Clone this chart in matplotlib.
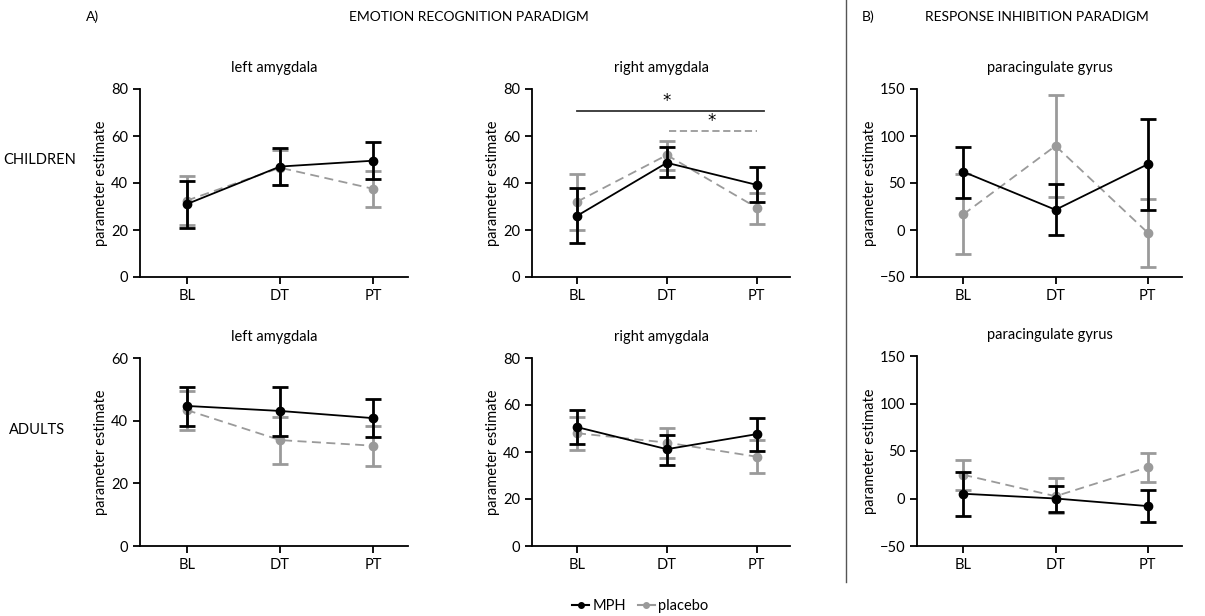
import matplotlib
matplotlib.use("Agg")
import matplotlib.pyplot as plt
from matplotlib.lines import Line2D

plt.rcParams['font.family'] = ['Lato', 'DejaVu Sans']

sessions = ['BL', 'DT', 'PT']

# children, emotion recognition
ch_left_mph = [31, 47, 49.5]
ch_left_mph_lo = [21, 39, 41.5]
ch_left_mph_hi = [41, 55, 57.5]
ch_left_pla = [32.5, 46.5, 37.5]
ch_left_pla_lo = [22, 39, 30]
ch_left_pla_hi = [43, 54, 45]

ch_right_mph = [26, 48.6, 39.2]
ch_right_mph_lo = [14.6, 42.4, 32]
ch_right_mph_hi = [37.9, 55.2, 46.7]
ch_right_pla = [32, 51.9, 29.5]
ch_right_pla_lo = [20, 45.5, 22.6]
ch_right_pla_hi = [43.8, 58, 35.9]

# children, response inhibition
ch_pcg_mph = [62, 21.5, 70]
ch_pcg_mph_lo = [34.4, -5.3, 21]
ch_pcg_mph_hi = [88.6, 48.6, 118]
ch_pcg_pla = [16.5, 89.5, -3]
ch_pcg_pla_lo = [-25.5, 35, -39]
ch_pcg_pla_hi = [60, 143.6, 33]

# adults, emotion recognition
ad_left_mph = [44.7, 43.1, 40.8]
ad_left_mph_lo = [38.3, 35.2, 34.7]
ad_left_mph_hi = [50.9, 50.6, 46.9]
ad_left_pla = [43.4, 33.8, 32]
ad_left_pla_lo = [37, 26.1, 25.6]
ad_left_pla_hi = [49.5, 41.3, 38.4]

ad_right_mph = [50.6, 41.2, 47.6]
ad_right_mph_lo = [43.5, 34.5, 40.5]
ad_right_mph_hi = [58, 47.3, 54.4]
ad_right_pla = [48, 44, 38]
ad_right_pla_lo = [40.9, 37.3, 30.9]
ad_right_pla_hi = [55.1, 50.2, 45.2]

# adults, response inhibition
ad_pcg_mph = [5, 0, -8]
ad_pcg_mph_lo = [-18, -14, -25]
ad_pcg_mph_hi = [28, 13, 9]
ad_pcg_pla = [25, 2.4, 33]
ad_pcg_pla_lo = [9, -15, 17]
ad_pcg_pla_hi = [41, 21.7, 48]

GREY = '#9a9a9a'

fig = plt.figure(figsize=(12.05, 6.16), dpi=100)

W, H = 1205, 616


def make_ax(left, right, top, bottom):
    return fig.add_axes([left / W, 1 - bottom / H, (right - left) / W, (bottom - top) / H])


def draw_panel(ax, title, mph, mph_lo, mph_hi, pla, pla_lo, pla_hi, ylim, yticks):
    x = list(range(len(sessions)))
    e_mph = [[m - lo for m, lo in zip(mph, mph_lo)], [hi - m for m, hi in zip(mph, mph_hi)]]
    e_pla = [[m - lo for m, lo in zip(pla, pla_lo)], [hi - m for m, hi in zip(pla, pla_hi)]]
    ax.errorbar(x, pla, yerr=e_pla, color=GREY, ecolor=GREY, elinewidth=2.0,
                capsize=5.5, capthick=2.0, linestyle=(0, (5, 3)), linewidth=1.3,
                marker='o', markersize=6, zorder=2)
    ax.errorbar(x, mph, yerr=e_mph, color='black', ecolor='black', elinewidth=2.0,
                capsize=5.5, capthick=2.0, linestyle='-', linewidth=1.3,
                marker='o', markersize=6, zorder=3)
    ax.set_xlim(-0.5, 2.37)
    ax.set_ylim(*ylim)
    ax.set_yticks(yticks)
    ax.set_xticks(x)
    ax.set_xticklabels(sessions)
    for s in ['top', 'right']:
        ax.spines[s].set_visible(False)
    for s in ['left', 'bottom']:
        ax.spines[s].set_linewidth(1.3)
    ax.tick_params(axis='both', direction='out', length=5, width=1.3, labelsize=10.5)
    ax.set_ylabel('parameter estimate', fontsize=10.5, labelpad=2)
    ax.set_title(title, fontsize=10.5, pad=12)


ax1 = make_ax(140, 408, 89, 277)
draw_panel(ax1, 'left amygdala', ch_left_mph, ch_left_mph_lo, ch_left_mph_hi,
           ch_left_pla, ch_left_pla_lo, ch_left_pla_hi, (0, 80), [0, 20, 40, 60, 80])

ax2 = make_ax(532, 790, 89, 277)
draw_panel(ax2, 'right amygdala', ch_right_mph, ch_right_mph_lo, ch_right_mph_hi,
           ch_right_pla, ch_right_pla_lo, ch_right_pla_hi, (0, 80), [0, 20, 40, 60, 80])
ax2.plot([0, 2.08], [70.6, 70.6], color='#333333', linewidth=1.3)
ax2.plot([1.02, 2.0], [62, 62], color=GREY, linewidth=1.3, linestyle=(0, (4, 2)))
ax2.text(1, 75, '*', ha='center', va='center', fontsize=12, family='DejaVu Sans')
ax2.text(1.5, 66.5, '*', ha='center', va='center', fontsize=12, family='DejaVu Sans')

ax3 = make_ax(917, 1182, 89, 277)
draw_panel(ax3, 'paracingulate gyrus', ch_pcg_mph, ch_pcg_mph_lo, ch_pcg_mph_hi,
           ch_pcg_pla, ch_pcg_pla_lo, ch_pcg_pla_hi, (-50, 150), [-50, 0, 50, 100, 150])

ax4 = make_ax(140, 408, 358, 546)
draw_panel(ax4, 'left amygdala', ad_left_mph, ad_left_mph_lo, ad_left_mph_hi,
           ad_left_pla, ad_left_pla_lo, ad_left_pla_hi, (0, 60), [0, 20, 40, 60])

ax5 = make_ax(532, 790, 358, 546)
draw_panel(ax5, 'right amygdala', ad_right_mph, ad_right_mph_lo, ad_right_mph_hi,
           ad_right_pla, ad_right_pla_lo, ad_right_pla_hi, (0, 80), [0, 20, 40, 60, 80])

ax6 = make_ax(917, 1182, 356, 546)
draw_panel(ax6, 'paracingulate gyrus', ad_pcg_mph, ad_pcg_mph_lo, ad_pcg_mph_hi,
           ad_pcg_pla, ad_pcg_pla_lo, ad_pcg_pla_hi, (-50, 150), [-50, 0, 50, 100, 150])

# headers and row labels
fig.text(86 / W, 1 - 17 / H, 'A)', fontsize=10, va='center')
fig.text(469 / W, 1 - 17 / H, 'EMOTION RECOGNITION PARADIGM', fontsize=10, ha='center', va='center')
fig.text(862 / W, 1 - 17 / H, 'B)', fontsize=10, va='center')
fig.text(1037 / W, 1 - 17 / H, 'RESPONSE INHIBITION PARADIGM', fontsize=10, ha='center', va='center')
fig.text(40 / W, 1 - 160 / H, 'CHILDREN', fontsize=10.5, ha='center', va='center')
fig.text(37 / W, 1 - 430 / H, 'ADULTS', fontsize=10.5, ha='center', va='center')

fig.add_artist(Line2D([846 / W, 846 / W], [1, 1 - 582 / H], color='#555555', linewidth=1))

handles = [
    Line2D([], [], color='black', linewidth=1.5, marker='o', markersize=4),
    Line2D([], [], color=GREY, linewidth=1.5, marker='o', markersize=4),
]
fig.legend(handles, ['MPH', 'placebo'], loc='center', bbox_to_anchor=(640 / W, 1 - 606 / H),
           ncol=2, frameon=False, fontsize=10.5, handlelength=1.2, handletextpad=0.2,
           columnspacing=0.8)

fig.savefig('out.png', dpi=100)
